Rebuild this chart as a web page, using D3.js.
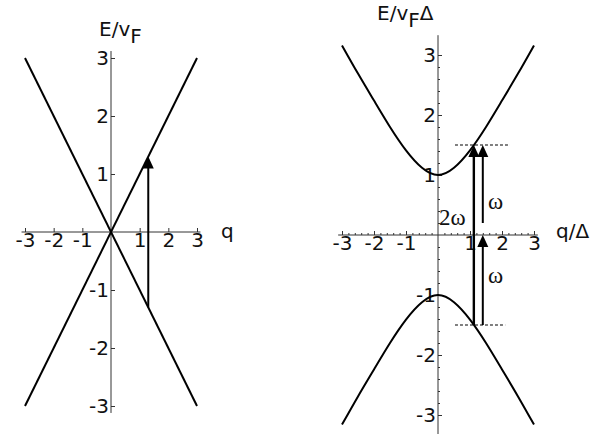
<!DOCTYPE html>
<html>
<head>
<meta charset="utf-8">
<script src="https://cdn.jsdelivr.net/npm/d3@7"></script>
<style>
  body { margin: 0; background: #fff; }
  svg { display: block; }
  .tick line { stroke: #333; }
  .lbl { font-family: "DejaVu Sans", sans-serif; font-size: 20px; fill: #111; }
  .om { font-family: "Liberation Serif", "Times New Roman", serif; font-size: 23px; fill: #111; }
</style>
</head>
<body>
<svg id="chart" width="608" height="434"></svg>
<script>
// tick labels (same on both panels)
const tickValues = [-3, -2, -1, 1, 2, 3];

// left panel: massless Dirac cone, E = ±v q
const coneUp = [{ q: -3, E: -3 }, { q: 3, E: 3 }];
const coneDown = [{ q: -3, E: 3 }, { q: 3, E: -3 }];
const leftArrows = [{ q: 1.3, from: -1.3, to: 1.3, w: 2 }];

// right panel: gapped bands
const bandQ = [-3, -2.5, -2, -1.5, -1, -0.5, 0, 0.5, 1, 1.5, 2, 2.5, 3];
const bandUpper = [3.16, 2.69, 2.24, 1.80, 1.41, 1.12, 1.00, 1.12, 1.41, 1.80, 2.24, 2.69, 3.16];
const bandLower = [-3.16, -2.69, -2.24, -1.80, -1.41, -1.12, -1.00, -1.12, -1.41, -1.80, -2.24, -2.69, -3.16];
const rightArrows = [
    { q: 1.12, from: -1.5, to: 1.5, w: 2.4 },
    { q: 1.4, from: 0.2, to: 1.5, w: 2 },
    { q: 1.4, from: -1.5, to: 0, w: 2 }];
const dashLines = [
    { E: 1.5, q0: 0.53, q1: 2.25 },
    { E: -1.5, q0: 0.53, q1: 2.1 }];

const svg = d3.select("#chart");

function styleTicks(a) {
    a.select(".domain").remove();
    a.selectAll("text")
        .text(d => String(d))
        .style("font-family", '"DejaVu Sans", sans-serif')
        .style("font-size", "20px")
        .attr("fill", "#111");
}

function panel(x, y, minor) {
    const g = svg.append("g");

    // axis lines a bit longer than the tick range
    const xd = x.domain(), yd = y.domain();
    g.append("line")
        .attr("x1", x(xd[0] - 0.12)).attr("x2", x(xd[1] + 0.12))
        .attr("y1", y(0)).attr("y2", y(0))
        .attr("stroke", "#333").attr("stroke-width", 1);
    g.append("line")
        .attr("x1", x(0)).attr("x2", x(0))
        .attr("y1", y(yd[1] + minor.yExtra)).attr("y2", y(yd[0] - minor.yExtra))
        .attr("stroke", "#333").attr("stroke-width", 1);

    if (minor.on) {
        const mx = x.ticks(30).filter(d => !Number.isInteger(d));
        const my = y.ticks(30).filter(d => !Number.isInteger(d));
        g.append("g").attr("transform", `translate(0,${y(0)})`)
            .call(d3.axisBottom(x).tickValues(mx).tickSize(-2).tickFormat(""))
            .call(a => a.select(".domain").remove());
        g.append("g").attr("transform", `translate(${x(0)},0)`)
            .call(d3.axisLeft(y).tickValues(my).tickSize(-2).tickFormat(""))
            .call(a => a.select(".domain").remove());
    }

    g.append("g").attr("transform", `translate(0,${y(0)})`)
        .call(d3.axisBottom(x).tickValues(tickValues).tickSize(-4).tickPadding(1))
        .call(styleTicks);
    g.append("g").attr("transform", `translate(${x(0)},0)`)
        .call(d3.axisLeft(y).tickValues(tickValues).tickSize(-4).tickPadding(2))
        .call(styleTicks);
    return g;
}

function arrows(g, x, y, list) {
    list.forEach(a => {
        const px = x(a.q), tip = y(a.to);
        g.append("line")
            .attr("x1", px).attr("x2", px)
            .attr("y1", y(a.from)).attr("y2", tip + 8)
            .attr("stroke", "#000").attr("stroke-width", a.w);
        g.append("path")
            .attr("d", `M${px},${tip} L${px - 5.5},${tip + 12} L${px + 5.5},${tip + 12} Z`)
            .attr("fill", "#000");
    });
}

// ---- left panel
const xL = d3.scaleLinear().domain([-3, 3]).range([25, 197]);
const yL = d3.scaleLinear().domain([-3, 3]).range([406, 58]);
const gL = panel(xL, yL, { on: false, yExtra: 0.12 });

const lineL = d3.line().x(d => xL(d.q)).y(d => yL(d.E));
[coneUp, coneDown].forEach(c => {
    gL.append("path").attr("d", lineL(c))
        .attr("fill", "none").attr("stroke", "#000").attr("stroke-width", 2);
});
arrows(gL, xL, yL, leftArrows);

gL.append("text").attr("class", "lbl").attr("x", 99).attr("y", 36)
    .text("E/v")
    .append("tspan").attr("dy", 7).text("F");
gL.append("text").attr("class", "lbl").attr("x", 221).attr("y", 238).text("q");

// ---- right panel
const xR = d3.scaleLinear().domain([-3, 3]).range([342, 534]);
const yR = d3.scaleLinear().domain([-3, 3]).range([415, 55]);
const gR = panel(xR, yR, { on: true, yExtra: 0.33 });

const lineR = d3.line().curve(d3.curveNatural).x(d => xR(d[0])).y(d => yR(d[1]));
[bandUpper, bandLower].forEach(b => {
    gR.append("path").attr("d", lineR(d3.zip(bandQ, b)))
        .attr("fill", "none").attr("stroke", "#000").attr("stroke-width", 2);
});

dashLines.forEach(d => {
    gR.append("line")
        .attr("x1", xR(d.q0)).attr("x2", xR(d.q1))
        .attr("y1", yR(d.E)).attr("y2", yR(d.E))
        .attr("stroke", "#000").attr("stroke-width", 1.2)
        .attr("stroke-dasharray", "3,2");
});
arrows(gR, xR, yR, rightArrows);

gR.append("text").attr("class", "om").attr("x", 439).attr("y", 225).text("2ω");
gR.append("text").attr("class", "om").attr("x", 488).attr("y", 209).text("ω");
gR.append("text").attr("class", "om").attr("x", 488).attr("y", 283).text("ω");

const tR = gR.append("text").attr("class", "lbl").attr("x", 377).attr("y", 20).text("E/v");
tR.append("tspan").attr("dy", 7).text("F");
tR.append("tspan").attr("dy", -7).text("Δ");
gR.append("text").attr("class", "lbl").attr("x", 556).attr("y", 238).text("q/Δ");
</script>
</body>
</html>
